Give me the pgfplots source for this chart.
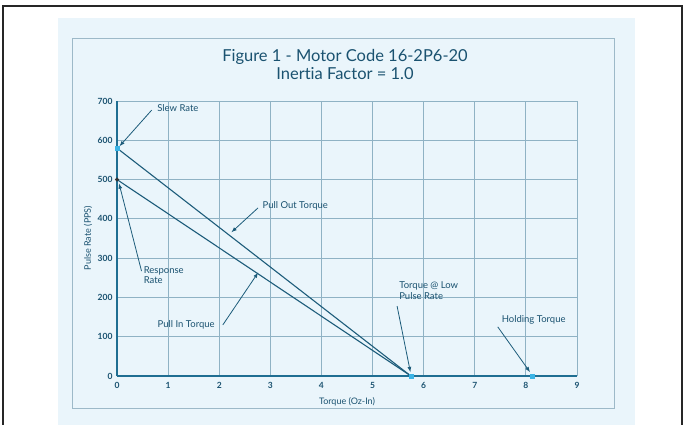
\documentclass[border=0pt]{standalone}
\usepackage{fontspec}
\setmainfont[Ligatures={NoCommon,NoRequired,NoContextual}]{Lato}
\usepackage{pgfplots}
\pgfplotsset{compat=1.18}
\definecolor{pagebg}{HTML}{EAF5FB}
\definecolor{boxc}{HTML}{9DB9C8}
\definecolor{txt}{HTML}{1A5270}
\definecolor{axc}{HTML}{1F6E92}
\definecolor{gridc}{HTML}{8FB2C4}
\definecolor{linec}{HTML}{1D5C7A}
\definecolor{mk}{HTML}{3BB4E6}
\begin{document}
\begin{tikzpicture}[x=1pt,y=1pt]
\path[use as bounding box] (0,0) rectangle (684,424);
\fill[white] (0,0) rectangle (684,424);
\fill[pagebg] (58,-5) rectangle (635,406);
\draw[black!85, line width=2.2pt] (3,-10) -- (3,418) -- (682,418) -- (682,-10);
\draw[boxc, line width=0.9pt] (72,16) rectangle (614,386);
\node[txt, font=\fontsize{16.5}{18}\selectfont] at (345,367) {Figure 1 - Motor Code 16-2P6-20};
\node[txt, font=\fontsize{16.5}{18}\selectfont] at (345,350) {Inertia Factor = 1.0};
\node[txt, rotate=90, font=\fontsize{9}{11}\selectfont] at (88,186) {Pulse Rate (PPS)};
\node[txt, font=\fontsize{9}{11}\selectfont] at (347,22) {Torque (Oz-In)};
\begin{axis}[
  at={(117pt,48pt)}, anchor=origin,
  scale only axis, width=460pt, height=275pt,
  xmin=0, xmax=9, ymin=0, ymax=700,
  xtick={0,1,...,9}, ytick={0,100,...,700},
  axis x line=bottom, axis y line=left,
  axis line style={-, axc, line width=1.4pt},
  major tick length=0pt,
  grid=major,
  major grid style={gridc, line width=0.8pt},
  tick label style={txt, font=\fontsize{8.5}{10}\selectfont\bfseries},
  /pgf/number format/assume math mode=true,
  xticklabel style={yshift=-3pt},
  yticklabel style={xshift=-1pt},
  clip=false,
]
\addplot[linec, line width=1.1pt] coordinates {(0,580) (5.75,0)};
\addplot[linec, line width=1.1pt] coordinates {(0,500) (5.75,0)};
\addplot[only marks, mark=square*, mark size=2pt, mk] coordinates {(0,580) (5.75,0) (8.12,0)};
\addplot[only marks, mark=*, mark size=1.8pt, black!80] coordinates {(0,500)};
\draw[-latex, linec, line width=0.8pt] (axis cs:0.68,677) -- (axis cs:0.05,585);
\node[txt, anchor=west, font=\fontsize{9.5}{11}\selectfont] at (axis cs:0.72,682) {Slew Rate};
\draw[-latex, linec, line width=0.8pt] (axis cs:0.48,267) -- (axis cs:0.04,490);
\node[txt, anchor=north west, align=left, inner sep=1pt, font=\fontsize{9.5}{10.5}\selectfont] at (axis cs:0.5,282) {Response\\Rate};
\draw[-latex, linec, line width=0.8pt] (axis cs:2.76,428) -- (axis cs:2.24,366);
\node[txt, anchor=west, font=\fontsize{9.5}{11}\selectfont] at (axis cs:2.78,434) {Pull Out Torque};
\draw[-latex, linec, line width=0.8pt] (axis cs:2.07,130) -- (axis cs:2.76,263);
\node[txt, anchor=east, font=\fontsize{9.5}{11}\selectfont] at (axis cs:1.98,131) {Pull In Torque};
\draw[-latex, linec, line width=0.8pt] (axis cs:5.48,178) -- (axis cs:5.74,10);
\node[txt, anchor=north west, align=left, font=\fontsize{9.5}{10.5}\selectfont, inner sep=1pt] at (axis cs:5.5,242) {Torque @ Low\\Pulse Rate};
\draw[-latex, linec, line width=0.8pt] (axis cs:7.45,125) -- (axis cs:8.08,10);
\node[txt, anchor=west, font=\fontsize{9.5}{11}\selectfont] at (axis cs:7.46,143) {Holding Torque};
\end{axis}
\end{tikzpicture}
\end{document}
